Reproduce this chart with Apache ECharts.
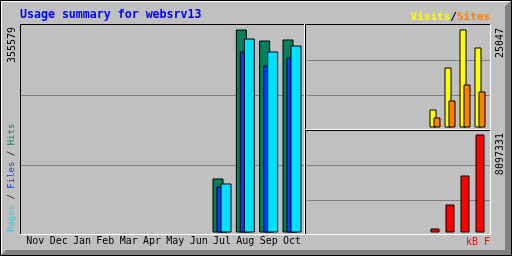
<!DOCTYPE html>
<html><head><meta charset="utf-8">
<script src="https://cdn.jsdelivr.net/npm/echarts@6/dist/echarts.min.js"></script>
<style>html,body{margin:0;padding:0;background:#c0c0c0}#c{width:512px;height:256px}</style>
</head><body><div id="c"></div>
<script>
// ---- data ----
const months = ['Nov','Dec','Jan','Feb','Mar','Apr','May','Jun','Jul','Aug','Sep','Oct'];
const hits   = [0,0,0,0,0,0,0,0, 94590, 355579, 336310, 338060];
const files  = [0,0,0,0,0,0,0,0, 80580, 317040, 292520, 306530];
const pages  = [0,0,0,0,0,0,0,0, 85830, 339810, 317040, 327550];
const visits = [0,0,0,0,0,0,0,0, 4600, 15335, 25047, 20447];
const sites  = [0,0,0,0,0,0,0,0, 2556, 6901, 10990, 9201];
const kbytes = [0,0,0,0,0,0,0,0, 330500, 2313520, 4709570, 8097331];
const titleText = 'Usage summary for websrv13';

// ---- style ----
const C = {bg:'#c0c0c0', dk:'#808080', hits:'#00805c', files:'#0040ff', pages:'#00e0ff',
  visits:'#ffff00', sites:'#ff8000', kb:'#ff0000', title:'#0000ff'};
const MONO = '"DejaVu Sans Mono", monospace';
const nz = a => a.map(v => v === 0 ? null : v);
const maxHits = Math.max(...hits), maxVisits = Math.max(...visits), maxKb = Math.max(...kbytes);

const chart = echarts.init(document.getElementById('c'), null, {renderer:'canvas'});

function boxAxes(gi){
  return {
    x:{gridIndex:gi, type:'value', min:0, max:1, show:false},
    y:{gridIndex:gi, type:'value', min:0, max:3, interval:1, axisLabel:{show:false}, axisLine:{show:false}, axisTick:{show:false},
       splitLine:{show:true, showMinLine:false, showMaxLine:false, lineStyle:{color:C.dk, width:1}}}
  };
}
const b0 = boxAxes(0), b1 = boxAxes(1), b2 = boxAxes(2);

function catAxis(gi, showLabels){
  return {gridIndex:gi, type:'category', data:months, axisLine:{show:false}, axisTick:{show:false},
    axisLabel:{show:showLabels, interval:0, color:'#000', fontFamily:MONO, fontSize:10, margin:4}};
}
function valAxis(gi, max){
  return {gridIndex:gi, type:'value', min:0, max:max, show:false, splitLine:{show:false}};
}
const barStyle = color => ({color:color, borderColor:'#000', borderWidth:1});

function line(x1,y1,x2,y2,color){
  return {type:'line', z:100, shape:{x1,y1,x2,y2}, style:{stroke:color, lineWidth:1}};
}
function panel(l,t,r,b){
  return [line(l,t+0.5,r+1,t+0.5,'#000'), line(l+0.5,t,l+0.5,b+1,'#000'),
          line(l,b+0.5,r+1,b+0.5,'#fff'), line(r+0.5,t,r+0.5,b+1,'#fff')];
}
const shadow = {textShadowColor:C.dk, textShadowOffsetX:1, textShadowOffsetY:1, textShadowBlur:0};

chart.setOption({
  animation:false,
  backgroundColor:C.bg,
  grid:[
    {left:21, top:25, width:283, height:210},
    {left:306, top:25, width:184, height:105},
    {left:306, top:130, width:184, height:105},
    {left:23.67, top:29.5, width:280, height:203},
    {left:307.5, top:29.5, width:180, height:98},
    {left:307.5, top:134.5, width:180, height:98}
  ],
  xAxis:[b0.x, b1.x, b2.x, catAxis(3,true), catAxis(4,false), catAxis(5,false)],
  yAxis:[b0.y, b1.y, b2.y, valAxis(3,maxHits), valAxis(4,maxVisits), valAxis(5,maxKb)],
  series:[
    {type:'bar', name:'Hits', xAxisIndex:3, yAxisIndex:3, data:nz(hits), barWidth:11, barGap:'-63.64%', itemStyle:barStyle(C.hits)},
    {type:'bar', name:'Files', xAxisIndex:3, yAxisIndex:3, data:nz(files), barWidth:11, barGap:'-63.64%', itemStyle:barStyle(C.files)},
    {type:'bar', name:'Pages', xAxisIndex:3, yAxisIndex:3, data:nz(pages), barWidth:11, barGap:'-63.64%', itemStyle:barStyle(C.pages)},
    {type:'bar', name:'Visits', xAxisIndex:4, yAxisIndex:4, data:nz(visits), barWidth:7, barGap:'-42.86%', itemStyle:barStyle(C.visits)},
    {type:'bar', name:'Sites', xAxisIndex:4, yAxisIndex:4, data:nz(sites), barWidth:7, barGap:'-42.86%', itemStyle:barStyle(C.sites)},
    {type:'bar', name:'kB F', xAxisIndex:5, yAxisIndex:5, data:nz(kbytes), barWidth:9, itemStyle:barStyle(C.kb)}
  ],
  graphic:[
    {type:'rect', z:90, shape:{x:0.5,y:0.5,width:511,height:255}, style:{fill:null, stroke:'#000', lineWidth:1}},
    line(1,1.5,510,1.5,'#fff'), line(1.5,1,1.5,254,'#fff'),
    {type:'polygon', z:90, shape:{points:[[511,1],[511,255],[1,255],[6,250],[505,250],[505,6]]}, style:{fill:C.dk}},
    ...panel(20,24,304,234),
    ...panel(305,24,490,129),
    ...panel(305,130,490,234),
    {type:'text', z:100, x:20, y:14.5, style:{text:titleText, fill:C.title, fontFamily:MONO, fontWeight:'bold', fontSize:11.6, verticalAlign:'middle'}},
    {type:'text', z:100, x:490, y:17.5, style:{text:'{v|Visits}{s|/}{t|Sites}', align:'right', verticalAlign:'middle',
      rich:{v:Object.assign({fill:C.visits, fontFamily:MONO, fontWeight:'bold', fontSize:11}, shadow),
            s:Object.assign({fill:'#000', fontFamily:MONO, fontWeight:'bold', fontSize:11}, shadow),
            t:Object.assign({fill:C.sites, fontFamily:MONO, fontWeight:'bold', fontSize:11}, shadow)}}},
    {type:'text', z:100, x:490, y:242, style:Object.assign({text:'kB F', align:'right', verticalAlign:'middle', fill:C.kb, fontFamily:MONO, fontSize:10}, shadow)},
    {type:'text', z:100, x:12, y:27, rotation:Math.PI/2, style:{text:String(maxHits), align:'right', verticalAlign:'middle', fill:'#000', fontFamily:MONO, fontSize:10}},
    {type:'text', z:100, x:500.5, y:28, rotation:Math.PI/2, style:{text:String(maxVisits), align:'right', verticalAlign:'middle', fill:'#000', fontFamily:MONO, fontSize:10}},
    {type:'text', z:100, x:500.5, y:133, rotation:Math.PI/2, style:{text:String(maxKb), align:'right', verticalAlign:'middle', fill:'#000', fontFamily:MONO, fontSize:10}},
    {type:'text', z:100, x:11.5, y:232, rotation:Math.PI/2, style:{text:'{p|Pages}{s| / }{f|Files}{s| / }{h|Hits}', align:'left', verticalAlign:'middle',
      rich:{p:Object.assign({fill:C.pages, fontFamily:MONO, fontSize:9}, shadow),
            s:Object.assign({fill:'#000', fontFamily:MONO, fontSize:9}, shadow),
            f:Object.assign({fill:C.files, fontFamily:MONO, fontSize:9}, shadow),
            h:Object.assign({fill:C.hits, fontFamily:MONO, fontSize:9}, shadow)}}}
  ]
});
</script></body></html>
